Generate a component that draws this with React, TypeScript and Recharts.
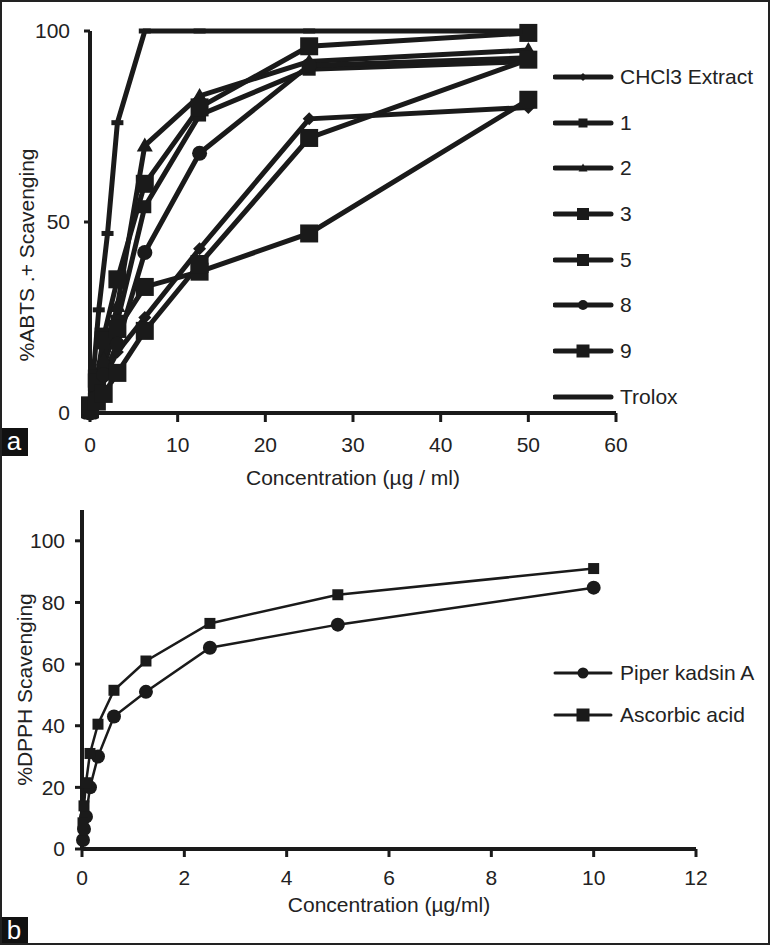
import React from 'react';
import { Line, LineChart, XAxis, YAxis } from 'recharts';

// ---- panel a: ABTS scavenging ----
const abtsConc = [0, 0.78, 1.56, 3.125, 6.25, 12.5, 25, 50];
const troloxConc = [0, 1, 2, 3.125, 6.25, 12.5, 25, 50];

const chcl3Extract = [0, 4, 9, 16, 25, 43, 77, 80];
const cmp1 = [0, 5, 12, 24, 54, 78, 90, 92];
const cmp2 = [0, 6, 14, 28, 70, 83, 92, 95];
const cmp3 = [1, 9, 20, 35, 60, 80, 96, 99.5];
const cmp5 = [1, 8, 19, 22, 33, 37, 47, 82];
const cmp8 = [0, 4, 10, 18, 42, 68, 91, 93];
const cmp9 = [2, 3, 5, 10.5, 21.5, 39, 72, 92.5];
const trolox = [0, 27, 47, 76, 100, 100, 100, 100];

const abtsTicksX = [0, 10, 20, 30, 40, 50, 60];
const abtsTicksY = [0, 50, 100];

// ---- panel b: DPPH scavenging ----
const dpphConc = [0.0195, 0.039, 0.078, 0.156, 0.3125, 0.625, 1.25, 2.5, 5, 10];
const piperKadsinA = [2.9, 6.5, 10.5, 20, 30, 43, 51, 65.3, 72.8, 84.8];
const ascorbicAcid = [8.5, 14, 21.5, 31, 40.5, 51.5, 61, 73.2, 82.5, 91];

const dpphTicksX = [0, 2, 4, 6, 8, 10, 12];
const dpphTicksY = [0, 20, 40, 60, 80, 100];

const INK = '#1a1a1a';
const TEXT = '#222';
const FONT = '"Liberation Sans", Arial, sans-serif';
const FS = 21;

const toRows = (xs: number[], ys: number[]) => xs.map((x, i) => ({ x, y: ys[i] }));

type Shape = 'diamond' | 'square' | 'triangle' | 'circle' | 'dash' | 'none';

function Marker({ cx, cy, shape, size }: { cx: number; cy: number; shape: Shape; size: number }) {
  if (cx == null || cy == null) return null;
  const h = size / 2;
  switch (shape) {
    case 'square':
      return <rect x={cx - h} y={cy - h} width={size} height={size} fill={INK} />;
    case 'circle':
      return <circle cx={cx} cy={cy} r={h} fill={INK} />;
    case 'diamond':
      return <polygon points={`${cx},${cy - h} ${cx + h},${cy} ${cx},${cy + h} ${cx - h},${cy}`} fill={INK} />;
    case 'triangle':
      return <polygon points={`${cx},${cy - h} ${cx + h},${cy + h * 0.75} ${cx - h},${cy + h * 0.75}`} fill={INK} />;
    case 'dash':
      return <rect x={cx - h} y={cy - 2.5} width={size} height={5} fill={INK} />;
    default:
      return null;
  }
}

const abtsSeries = [
  { name: 'CHCl3 Extract', rows: toRows(abtsConc, chcl3Extract), shape: 'diamond' as Shape, size: 13, legendSize: 8 },
  { name: '1', rows: toRows(abtsConc, cmp1), shape: 'square' as Shape, size: 13, legendSize: 9 },
  { name: '2', rows: toRows(abtsConc, cmp2), shape: 'triangle' as Shape, size: 16, legendSize: 9 },
  { name: '3', rows: toRows(abtsConc, cmp3), shape: 'square' as Shape, size: 18, legendSize: 12 },
  { name: '5', rows: toRows(abtsConc, cmp5), shape: 'square' as Shape, size: 18, legendSize: 12 },
  { name: '8', rows: toRows(abtsConc, cmp8), shape: 'circle' as Shape, size: 15, legendSize: 10 },
  { name: '9', rows: toRows(abtsConc, cmp9), shape: 'square' as Shape, size: 18, legendSize: 13 },
  { name: 'Trolox', rows: toRows(troloxConc, trolox), shape: 'dash' as Shape, size: 12, legendSize: 0 },
];

const dpphSeries = [
  { name: 'Piper kadsin A', rows: toRows(dpphConc, piperKadsinA), shape: 'circle' as Shape, size: 14, legendSize: 11 },
  { name: 'Ascorbic acid', rows: toRows(dpphConc, ascorbicAcid), shape: 'square' as Shape, size: 11, legendSize: 13 },
];

const tickStyle = { fill: TEXT, fontSize: FS, fontFamily: FONT };

function LegendBox({
  items,
  left,
  top,
  gap,
  lineWidth,
}: {
  items: { name: string; shape: Shape; legendSize: number }[];
  left: number;
  top: number;
  gap: number;
  lineWidth: number;
}) {
  return (
    <div style={{ position: 'absolute', left, top }}>
      {items.map((s) => (
        <div key={s.name} style={{ display: 'flex', alignItems: 'center', height: gap }}>
          <svg width={62} height={20} style={{ display: 'block' }}>
            <line x1={2} x2={58} y1={10} y2={10} stroke={INK} strokeWidth={lineWidth} strokeLinecap="round" />
            <Marker cx={30} cy={10} shape={s.shape} size={s.legendSize} />
          </svg>
          <span style={{ fontSize: FS, color: TEXT, fontFamily: FONT, marginLeft: 5 }}>{s.name}</span>
        </div>
      ))}
    </div>
  );
}

function PanelTag({ letter, top }: { letter: string; top: number }) {
  return (
    <div
      style={{
        position: 'absolute',
        left: 0,
        top,
        width: 28,
        height: 28,
        background: '#111',
        color: '#fff',
        fontFamily: FONT,
        fontSize: 26,
        lineHeight: '26px',
        textAlign: 'center',
      }}
    >
      {letter}
    </div>
  );
}

export default function App() {
  return (
    <div style={{ position: 'relative', width: 770, height: 945, background: '#fff', overflow: 'hidden' }}>
      <style>{'body{margin:0}'}</style>

      <div style={{ position: 'absolute', left: 0, top: 0 }}>
        <LineChart width={770} height={490} margin={{ top: 31, right: 154, left: 30, bottom: 0 }}>
          <XAxis
            dataKey="x"
            type="number"
            domain={[0, 60]}
            ticks={abtsTicksX}
            height={77}
            axisLine={{ stroke: INK, strokeWidth: 4 }}
            tickLine={{ stroke: INK, strokeWidth: 3 }}
            tickSize={9}
            tickMargin={15}
            tick={tickStyle}
            label={({ viewBox }: any) => (
              <text x={viewBox.x + viewBox.width / 2} y={viewBox.y + 72} textAnchor="middle" fill={TEXT} fontSize={FS} fontFamily={FONT}>
                Concentration (µg / ml)
              </text>
            )}
          />
          <YAxis
            type="number"
            domain={[0, 100]}
            ticks={abtsTicksY}
            width={60}
            axisLine={{ stroke: INK, strokeWidth: 4 }}
            tickLine={{ stroke: INK, strokeWidth: 3 }}
            tickSize={6}
            tickMargin={14}
            tick={tickStyle}
            label={({ viewBox }: any) => {
              const x = viewBox.x + 4;
              const y = viewBox.y + viewBox.height / 2 + 33;
              return (
                <text x={x} y={y} transform={`rotate(-90 ${x} ${y})`} textAnchor="middle" fill={TEXT} fontSize={FS} fontFamily={FONT}>
                  %ABTS .+ Scavenging
                </text>
              );
            }}
          />
          {abtsSeries.map((s) => (
            <Line
              key={s.name}
              data={s.rows}
              dataKey="y"
              name={s.name}
              stroke={INK}
              strokeWidth={5}
              isAnimationActive={false}
              dot={(p: any) => <Marker key={`${s.name}-${p.index}`} cx={p.cx} cy={p.cy} shape={s.shape} size={s.size} />}
              activeDot={false}
            />
          ))}
        </LineChart>
      </div>

      <LegendBox items={abtsSeries} left={553} top={54} gap={45.7} lineWidth={5} />

      <div style={{ position: 'absolute', left: 0, top: 480 }}>
        <LineChart width={770} height={465} margin={{ top: 30, right: 74, left: 22, bottom: 0 }}>
          <XAxis
            dataKey="x"
            type="number"
            domain={[0, 12]}
            ticks={dpphTicksX}
            height={96}
            axisLine={{ stroke: INK, strokeWidth: 4 }}
            tickLine={{ stroke: INK, strokeWidth: 3 }}
            tickSize={8}
            tickMargin={13}
            tick={tickStyle}
            label={({ viewBox }: any) => (
              <text x={viewBox.x + viewBox.width / 2} y={viewBox.y + 63} textAnchor="middle" fill={TEXT} fontSize={FS} fontFamily={FONT}>
                Concentration (µg/ml)
              </text>
            )}
          />
          <YAxis
            type="number"
            domain={[0, 110]}
            ticks={dpphTicksY}
            width={60}
            axisLine={{ stroke: INK, strokeWidth: 4 }}
            tickLine={{ stroke: INK, strokeWidth: 3 }}
            tickSize={7}
            tickMargin={10}
            tick={tickStyle}
            label={({ viewBox }: any) => {
              const x = viewBox.x + 10;
              const y = viewBox.y + viewBox.height / 2 + 10;
              return (
                <text x={x} y={y} transform={`rotate(-90 ${x} ${y})`} textAnchor="middle" fill={TEXT} fontSize={FS} fontFamily={FONT}>
                  %DPPH Scavenging
                </text>
              );
            }}
          />
          {dpphSeries.map((s) => (
            <Line
              key={s.name}
              data={s.rows}
              dataKey="y"
              name={s.name}
              stroke={INK}
              strokeWidth={2.5}
              isAnimationActive={false}
              dot={(p: any) => <Marker key={`${s.name}-${p.index}`} cx={p.cx} cy={p.cy} shape={s.shape} size={s.size} />}
              activeDot={false}
            />
          ))}
        </LineChart>
      </div>

      <LegendBox items={dpphSeries} left={553} top={652} gap={42} lineWidth={3} />

      <PanelTag letter="a" top={428} />
      <PanelTag letter="b" top={917} />

      <div
        style={{
          position: 'absolute',
          inset: 0,
          border: '2px solid #222',
          boxSizing: 'border-box',
          pointerEvents: 'none',
        }}
      />
    </div>
  );
}
